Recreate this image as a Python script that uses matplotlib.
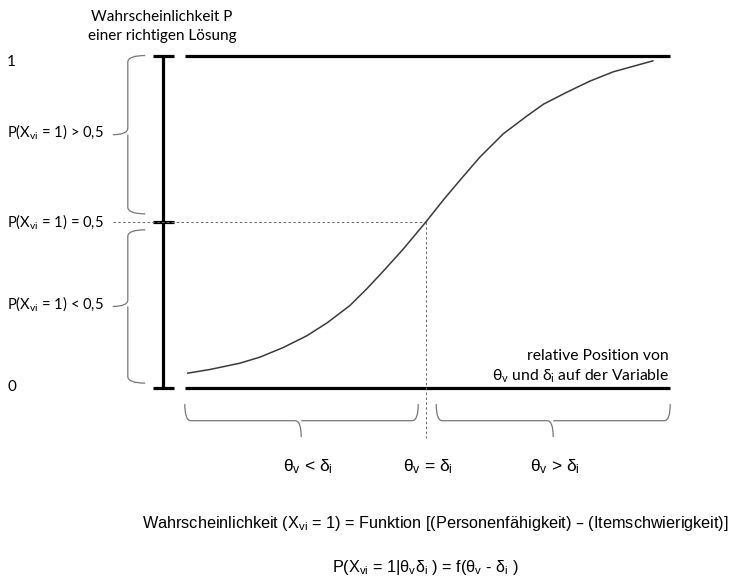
import numpy as np
import matplotlib
matplotlib.use("Agg")
import matplotlib.pyplot as plt
from matplotlib.path import Path
from matplotlib.patches import PathPatch

# Kurve: theta - delta (Logits) und Lösungswahrscheinlichkeit
theta_minus_delta = [-3.97, -3.60, -3.10, -2.77, -2.38, -1.99, -1.65, -1.27, -0.99,
                     -0.71, -0.38, 0.0, 0.29, 0.57, 0.90, 1.29, 1.68, 1.96, 2.35,
                     2.73, 3.12, 3.46, 3.78]
p_loesung = [0.045, 0.056, 0.075, 0.093, 0.122, 0.157, 0.196, 0.248, 0.298,
             0.352, 0.418, 0.500, 0.566, 0.626, 0.695, 0.765, 0.818, 0.854, 0.890,
             0.923, 0.951, 0.968, 0.984]

p_ticks = [0, 0.5, 1]
p_tick_labels = ["0", r"P($\mathregular{X_{vi}}$ = 1) = 0,5", "1"]
bereich_labels = [r"P($\mathregular{X_{vi}}$ = 1) > 0,5", r"P($\mathregular{X_{vi}}$ = 1) < 0,5"]
x_labels = [r"$\mathregular{θ_v}$ < $\mathregular{δ_i}$",
            r"$\mathregular{θ_v}$ = $\mathregular{δ_i}$",
            r"$\mathregular{θ_v}$ > $\mathregular{δ_i}$"]

CAL = "Lato"
ARI = "Liberation Sans"
GRAU = "#777777"


def brace_v(ax, x_end, x_mid, x_tip, y_top, y_bot, ry):
    y_c = (y_top + y_bot) / 2
    verts = [(x_end, y_top), (x_mid, y_top), (x_mid, y_top - ry),
             (x_mid, y_c + ry), (x_mid, y_c), (x_tip, y_c),
             (x_mid, y_c), (x_mid, y_c - ry),
             (x_mid, y_bot + ry), (x_mid, y_bot), (x_end, y_bot)]
    codes = [Path.MOVETO, Path.CURVE3, Path.CURVE3,
             Path.LINETO, Path.CURVE3, Path.CURVE3,
             Path.MOVETO, Path.CURVE3,
             Path.LINETO, Path.CURVE3, Path.CURVE3]
    ax.add_patch(PathPatch(Path(verts, codes), fill=False, ec=GRAU, lw=0.9))


def brace_h(ax, x_l, x_r, y_end, y_mid, y_tip, x_tip, rx):
    verts = [(x_l, y_end), (x_l, y_mid), (x_l + rx, y_mid),
             (x_tip - rx, y_mid), (x_tip, y_mid), (x_tip, y_tip),
             (x_tip, y_mid), (x_tip + rx, y_mid),
             (x_r - rx, y_mid), (x_r, y_mid), (x_r, y_end)]
    codes = [Path.MOVETO, Path.CURVE3, Path.CURVE3,
             Path.LINETO, Path.CURVE3, Path.CURVE3,
             Path.MOVETO, Path.CURVE3,
             Path.LINETO, Path.CURVE3, Path.CURVE3]
    ax.add_patch(PathPatch(Path(verts, codes), fill=False, ec=GRAU, lw=0.9))


fig = plt.figure(figsize=(7.37, 5.79), dpi=100)
ax = fig.add_axes([0, 0, 1, 1])
ax.set_xlim(-7.1, 5.183)
ax.set_ylim(-0.574, 1.167)
ax.axis("off")

# Achse mit Strichen
x_achse = -4.38
ax.plot([x_achse, x_achse], [0, 1], color="black", lw=2.3, solid_capstyle="butt")
for p in p_ticks:
    ax.plot([-4.55, -4.2], [p, p], color="black", lw=2.3, solid_capstyle="butt")

# Ober- und Untergrenze
ax.plot([-4.02, 4.07], [1, 1], color="black", lw=2.3, solid_capstyle="butt")
ax.plot([-4.02, 4.07], [0, 0], color="black", lw=2.3, solid_capstyle="butt")

# Hilfslinien bei 0,5
ax.plot([-5.22, 0], [0.5, 0.5], color="#666666", lw=0.7, ls=(0, (2.5, 2.5)))
ax.plot([0, 0], [0.5, -0.15], color="#666666", lw=0.7, ls=(0, (2.5, 2.5)))

# Kurve
ax.plot(theta_minus_delta, p_loesung, color="#3a3a3a", lw=1.1)

# Klammern links
brace_v(ax, -4.68, -4.97, -5.22, 1.0, 0.524, 0.02)
brace_v(ax, -4.68, -4.97, -5.22, 0.476, 0.015, 0.02)

# Klammern unten
brace_h(ax, -4.02, -0.13, -0.048, -0.098, -0.147, -2.08, 0.1)
brace_h(ax, 0.17, 4.07, -0.048, -0.098, -0.147, 2.12, 0.1)

# Beschriftungen
ax.text(-4.4, 1.116, "Wahrscheinlichkeit P", family=CAL, fontsize=11, ha="center", va="center")
ax.text(-4.4, 1.059, "einer richtigen Lösung", family=CAL, fontsize=11, ha="center", va="center")
ax.text(-6.98, 0.98, p_tick_labels[2], family=CAL, fontsize=11, ha="left", va="center")
ax.text(-6.98, 0.003, p_tick_labels[0], family=CAL, fontsize=11, ha="left", va="center")
ax.text(-6.98, 0.5, p_tick_labels[1], family=CAL, fontsize=10.6, ha="left", va="center")
ax.text(-6.98, 0.77, bereich_labels[0], family=CAL, fontsize=10.6, ha="left", va="center")
ax.text(-6.98, 0.253, bereich_labels[1], family=CAL, fontsize=10.6, ha="left", va="center")

ax.text(4.05, 0.096, "relative Position von", family=CAL, fontsize=11.3, ha="right", va="center")
ax.text(4.05, 0.036, r"$\mathregular{θ_v}$ und $\mathregular{δ_i}$ auf der Variable",
        family=CAL, fontsize=11.3, ha="right", va="center")

for xt, lab in zip([-1.97, 0.03, 2.15], x_labels):
    ax.text(xt, -0.237, lab, family=ARI, fontsize=12.5, ha="center", va="center")

ax.text(0.15, -0.406,
        r"Wahrscheinlichkeit ($\mathregular{X_{vi}}$ = 1) = Funktion [(Personenfähigkeit) – (Itemschwierigkeit)]",
        family=ARI, fontsize=11.7, ha="center", va="center")
ax.text(-0.02, -0.538,
        r"P($\mathregular{X_{vi}}$ = 1|$\mathregular{θ_vδ_i}$ ) = f($\mathregular{θ_v}$ - $\mathregular{δ_i}$ )",
        family=ARI, fontsize=11.7, ha="center", va="center")

fig.savefig("out.png", dpi=100)
